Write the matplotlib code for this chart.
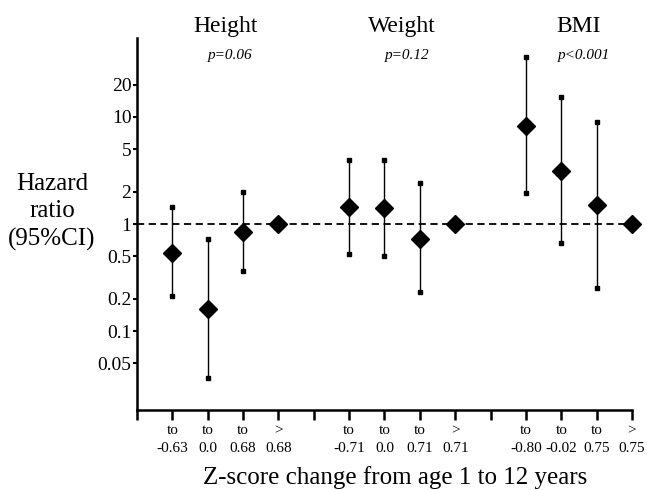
#!/usr/bin/env python3
import matplotlib
matplotlib.use('Agg')
import matplotlib.pyplot as plt

plt.rcParams['font.family'] = ['Liberation Serif', 'DejaVu Serif']

# hazard ratios and 95% CI; 4th group in each block is reference
groups = ['Height', 'Weight', 'BMI']
pvals = ['p=0.06', 'p=0.12', 'p<0.001']
hr = [[0.54, 0.16, 0.85, 1.0],
      [1.43, 1.40, 0.73, 1.0],
      [8.2, 3.15, 1.5, 1.0]]
lo = [[0.214, 0.036, 0.36, None],
      [0.52, 0.50, 0.23, None],
      [1.95, 0.66, 0.25, None]]
hi = [[1.45, 0.73, 2.0, None],
      [3.96, 3.96, 2.43, None],
      [36.0, 15.3, 9.0, None]]
cut_labels = [['to\n-0.63', 'to\n0.0', 'to\n0.68', '>\n0.68'],
              ['to\n-0.71', 'to\n0.0', 'to\n0.71', '>\n0.71'],
              ['to\n-0.80', 'to\n-0.02', 'to\n0.75', '>\n0.75']]
yticks = [0.05, 0.1, 0.2, 0.5, 1, 2, 5, 10, 20]

fig = plt.figure(figsize=(6.47, 4.90), dpi=100)
ax = fig.add_axes([0.2117, 0.1633, 0.7651, 0.7591])

ax.plot([0, 14], [1, 1], color='black', linestyle=(0, (4, 2.5)), linewidth=1.3, zorder=1)

xticks = []
xlabels = []
for g in range(3):
    for k in range(4):
        x = 1 + g * 5 + k
        xticks.append(x)
        xlabels.append(cut_labels[g][k])
        if lo[g][k] is not None:
            ax.plot([x, x], [lo[g][k], hi[g][k]], color='black', linewidth=1, zorder=2)
            ax.plot([x, x], [lo[g][k], hi[g][k]], 's', color='black', markersize=3, zorder=2)
        ax.plot(x, hr[g][k], 'D', color='black', markersize=9, zorder=3, clip_on=False)
    if g < 2:
        xticks.append(5 + g * 5)
        xlabels.append('')
    cx = 1 + g * 5 + 1.5
    ax.text(cx, 1.03, groups[g], transform=ax.get_xaxis_transform(),
            ha='center', va='center', fontsize=17)
    ax.text(cx + 0.15, 0.952, pvals[g], transform=ax.get_xaxis_transform(),
            ha='center', va='center', fontsize=11, style='italic')

ax.set_yscale('log')
ax.set_ylim(1 / 54.7, 54.7)
ax.set_xlim(0, 14)
ax.set_yticks(yticks)
ax.set_yticklabels(['0.05', '0.1', '0.2', '0.5', '1', '2', '5', '10', '20'], fontsize=14)
ax.minorticks_off()
ax.set_xticks([0] + xticks)
ax.set_xticklabels([''] + xlabels, fontsize=11, linespacing=1.5)

for s in ['top', 'right']:
    ax.spines[s].set_visible(False)
for s in ['left', 'bottom']:
    ax.spines[s].set_linewidth(1.8)
ax.tick_params(axis='y', length=3, width=1.5, pad=1)
ax.tick_params(axis='x', length=7, width=1.8, pad=3)

fig.text(52 / 647, 1 - 212 / 490, 'Hazard\nratio\n(95%CI)', ha='center', va='center',
         fontsize=18, linespacing=1.3)
fig.text(395 / 647, 1 - 478 / 490, 'Z-score change from age 1 to 12 years',
         ha='center', va='center', fontsize=18)

plt.savefig('out.png', dpi=100)
